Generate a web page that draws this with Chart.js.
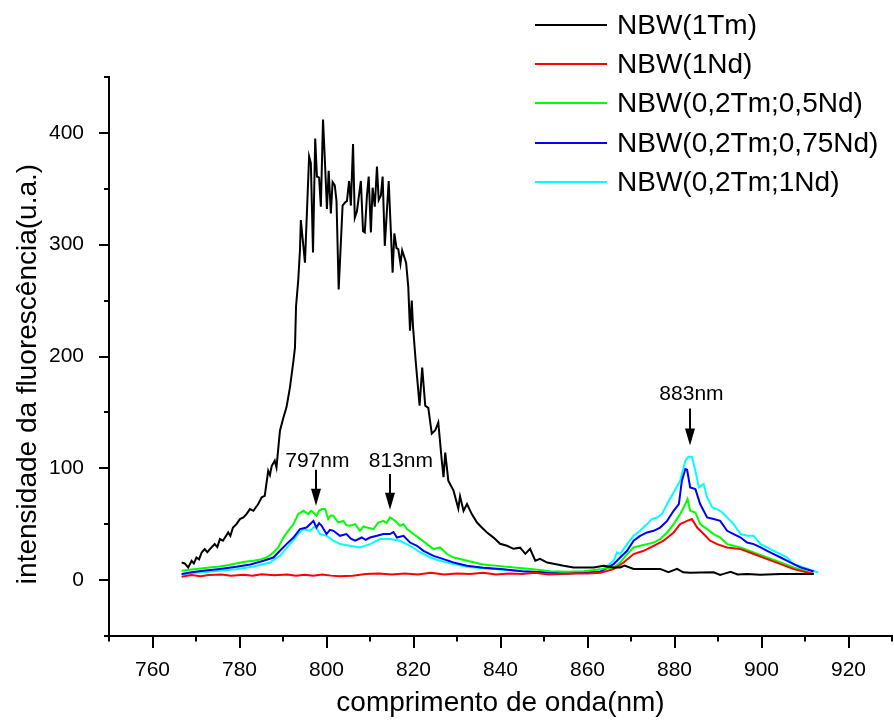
<!DOCTYPE html>
<html>
<head>
<meta charset="utf-8">
<script src="https://cdn.jsdelivr.net/npm/chart.js@4.4.1/dist/chart.umd.min.js"></script>
<style>
html,body{margin:0;padding:0;background:#fff;}
#wrap{position:relative;width:894px;height:722px;overflow:hidden;}
#c{position:absolute;left:0;top:0;}
.lg{position:absolute;left:535px;height:30px;display:flex;align-items:center;font-family:'Liberation Sans',Arial,sans-serif;font-size:28px;color:#000;white-space:nowrap;}
.lg .ln{display:inline-block;width:72px;height:2px;margin-right:10px;}
</style>
</head>
<body>
<div id="wrap"><canvas id="c" width="894" height="722"></canvas><div id="legend"></div></div>
<script>
// ---------- DATA ----------
const seriesLabels = ['NBW(1Tm)', 'NBW(1Nd)', 'NBW(0,2Tm;0,5Nd)', 'NBW(0,2Tm;0,75Nd)', 'NBW(0,2Tm;1Nd)'];

const tmWl = [766.7,767.4,768.2,769.0,769.5,770.1,770.7,771.3,772.0,772.6,773.2,774.3,774.9,775.5,776.2,777.4,777.9,778.5,779.3,780.1,780.9,781.6,782.4,783.2,784.3,785.1,785.8,786.6,787.0,787.4,788.1,788.5,789.3,790.1,790.8,791.6,792.4,792.75,793.0,793.5,793.9,794.1,795.05,796.0,796.4,796.9,797.4,797.8,798.3,798.7,799.2,799.7,800.1,800.5,801.0,801.4,801.9,802.3,802.8,803.7,804.3,804.7,805.2,805.6,806.1,806.5,807.0,807.9,808.4,808.8,809.3,809.7,810.2,810.6,811.1,811.6,812.0,812.5,812.9,813.4,814.3,815.2,815.6,816.1,816.5,817.0,817.4,818.3,818.8,819.2,819.6,819.9,820.5,821.4,822.0,822.7,823.4,824.2,825.0,825.7,826.5,826.9,827.3,828.0,829.2,830.3,830.7,831.5,832.3,833.4,834.6,835.7,836.9,838.4,839.9,841.5,843.0,844.5,845.7,846.8,848.0,849.1,850.7,852.2,854.5,856.8,859.1,861.4,863.7,866.0,867.5,868.5,870.6,876.7,878.6,880.6,882.0,883.6,885.9,889.0,890.5,891.3,892.9,894.5,896.7,899.7,904.4,912.0];
const tmInt = [15.7,14.9,11.3,17.3,15.0,20.2,18.5,24.7,27.7,25.0,27.7,32.2,29.5,36.7,35.2,42.6,39.5,47.0,50.1,54.6,56.0,59.0,63.5,62.0,68.0,74.0,75.4,97.8,94.0,102.0,106.8,100.8,133.6,145.5,154.5,172.4,196.0,208.0,245,268,295,322,284,379,373,293,395,361,360,334,412,369,332,366,328,356,353,339,260,335,338,339,357,335,390,324,330,357,312,311,344,361,311,351,334,370,340,344,361,299,357,275,310,297,296,283,295,284,262,223,250,226,196,156,190,156,154,131,134,141,107,92,114,89,80,64,75,62,68,59,51.5,47,42.6,38,32.5,30.7,28,29,23.5,28,17.3,19,15.7,14.6,12.8,11.3,11.3,11.3,12.8,11.3,11.3,13,10,10,7,10,7,6.5,6.8,7,4.7,5.6,7.4,5,5.4,4.7,5.4,5.4];

const ndWl = [766.7,769,771,773,776,778,781,783,785,788,791,793,795,797,799,801,803,806,809,812,815,818,821,824,827,830,833,836,839,842,845,848,851,854,857,860,863,866.0,868.3,870.6,872.9,875.2,877.5,879.8,881.3,882.9,884.0,885.2,886.7,888.2,889.8,892.1,895.2,898.2,901.3,904.4,907.4,912.0];
const ndInt = [3,4.5,3.5,4.5,5,3.8,4.8,4,5.2,4.3,5,4,4.8,4,5,4,3.5,4,5.5,6,5,6,5,6.5,5,6,5.5,6.5,5,6,5.5,6.5,5,5.5,6,6,6.5,9.8,15.7,23.3,26.2,30.7,35.2,42.6,50.1,53,54.6,47,41.2,35.2,32.2,29.2,27.7,23.3,18.8,14.3,9.8,5.4];

const mix05Wl = [766.7,769,771.6,773.5,775.5,777.5,779.3,781.2,783.2,784.8,786.2,787.8,788.9,790.1,791.2,792.4,793.5,794.7,795.8,796.4,797.0,797.7,798.3,798.9,799.7,800.4,801.0,801.6,802.7,803.9,804.6,805.4,806.6,807.7,808.5,809.3,810.8,811.9,813.1,813.8,814.6,815.8,816.9,817.7,818.5,820.0,821.6,823.1,824.6,826.1,827.7,829.2,830.7,832.3,836.0,839.9,843.8,847.5,851.4,855.3,859.1,862.9,866.0,867.5,869.1,870.6,872.1,873.7,875.2,876.7,878.3,879.8,881.3,882.5,883.0,883.6,884.8,885.9,887.5,889.0,890.5,892.1,893.6,895.2,898.2,901.3,904.4,907.4,912.0];
const mix05Int = [8.3,9.5,10.7,11.5,12.2,13.5,14.9,16.5,17.3,18.5,20.2,24.7,29.2,38.1,44.1,50.1,59,62,59,62,60.5,57.5,62,63.5,63.5,54.6,58,57.5,51.5,53,49,48.6,50.1,44.1,48,47,45.6,51.5,53,51,56,53,48.6,50,45.6,41.2,36.7,32.2,27.7,29.2,23.3,20.2,18.8,17.3,14,12.5,11,9.6,8,7.5,8,9.6,11.3,15.7,23.3,29.2,30.7,32.2,33.6,36.7,42.6,50.1,59,68,72.5,62,60.5,50.1,45.6,41.2,38.1,32.2,30.7,29.2,24.7,20.2,15.7,11.3,5.4];

const mix075Wl = [766.7,769,771.6,775.5,779.3,782.5,785.5,787.8,789.3,790.8,792.4,793.9,795.4,796.2,797.0,797.7,798.3,798.9,800.0,800.8,801.6,803.1,804.6,805.6,806.6,808.1,809.0,810.0,811.6,813.1,814.6,815.4,816.2,817.7,819.2,820.8,822.3,824.6,826.9,829.2,832.3,836,840,845,850,855,859,863,866.0,867.5,869.1,870.6,872.1,873.7,875.2,876.7,878.3,879.8,881.0,881.7,882.5,882.9,883.6,884.8,885.9,887.5,889.0,890.5,892.1,893.6,895.2,896.7,898.2,899.8,901.3,902.8,904.4,906.7,909.0,912.0];
const mix075Int = [5.4,7,8.3,10,11.9,14,17.3,20.2,26.2,32.2,38.1,45.6,47,50,53,47,51,48.6,41.2,45,44.1,39.6,41.2,37,35.2,38.1,36,38.1,39.6,41.2,41.2,43,38.1,39.6,33.6,30.7,26.2,21.7,18.8,15.7,12.8,11,10,8,7,6,6.5,7.5,14.3,20.2,26.2,35.2,39.6,42.6,44.1,47,53,62,68,88.9,99.3,98.7,82.9,81.4,68,56,54.6,53,44.1,41.2,38.1,33.6,32.2,29.2,26.2,23.3,20.2,15.7,11.3,7.7];

const mix1Wl = [766.7,770,773,776,779.3,783,787.0,789.3,791.6,793.5,794.7,796.2,797.4,798.5,800.0,801.6,803.1,805.4,807.7,810.0,812.3,814.6,816.9,819.2,821.6,823.9,826.1,829.2,832.3,836,840,845,850,855,859,863,866.0,866.8,867.5,869.1,870.6,872.1,873.7,874.8,876.0,877.1,878.3,879.8,881.3,882.5,883.2,884.0,884.8,885.6,886.7,887.5,888.7,889.8,891.0,892.1,893.6,895.2,896.7,898.2,899.8,901.3,902.8,904.4,905.9,907.4,909.7,912.0,913.0];
const mix1Int = [5,6.5,7.5,8.5,9.8,12,15.7,21.7,32.2,41.2,45.6,44.1,48.6,41.2,39.6,35.2,32.2,30.7,29.2,32.2,36.7,36.7,35.2,30.7,24.7,20.2,17.3,14.3,11.9,10.5,9.5,8,6.5,6,6.5,8,17.3,24.7,23.3,32.2,39.6,44.1,50.1,54.6,56,59,68,78.4,88.9,106.8,110.3,110.3,97.8,82.9,85.9,73.9,65,63.5,60.5,56,50.1,41.2,39.6,39.6,32.2,29.2,26.2,23.3,20.2,14.3,11.3,8.3,6.8];

const seriesColors = ['#000000', '#ff0000', '#00ff00', '#0000ff', '#00ffff'];

const xLabelledTicks = [760, 780, 800, 820, 840, 860, 880, 900, 920];
const yLabelledTicks = [0, 100, 200, 300, 400];

const xTitle = 'comprimento de onda(nm)';
const yTitle = 'intensidade da fluorescência(u.a.)';

const annotLabels = ['797nm', '813nm', '883nm'];
const annotTextX = [797.9, 817.1, 883.9];
const annotTextY = [106, 106, 166];
const arrowX = [797.7, 814.5, 883.5];
const arrowFrom = [98.7, 95, 153.4];
const arrowTo = [66.5, 63, 120.3];

// ---------- BUILD ----------
const FONT = "'Liberation Sans', Arial, sans-serif";
function pts(wl, v) { return wl.map((w, i) => ({x: w, y: v[i]})); }
const seriesWl = [tmWl, ndWl, mix05Wl, mix075Wl, mix1Wl];
const seriesInt = [tmInt, ndInt, mix05Int, mix075Int, mix1Int];

const datasets = seriesLabels.map((lab, i) => ({
  label: lab,
  data: pts(seriesWl[i], seriesInt[i]),
  borderColor: seriesColors[i],
  backgroundColor: seriesColors[i],
  borderWidth: 2,
  pointRadius: 0,
  tension: 0,
  fill: false
}));

const decor = {
  id: 'decor',
  afterDraw(chart) {
    const {ctx, scales: {x, y}} = chart;
    ctx.save();
    ctx.strokeStyle = '#000';
    ctx.lineWidth = 2;
    x.ticks.forEach(t => {
      const px = Math.round(x.getPixelForValue(t.value));
      const len = xLabelledTicks.includes(t.value) ? 12 : 5.5;
      ctx.beginPath();
      ctx.moveTo(px, x.top);
      ctx.lineTo(px, x.top + len);
      ctx.stroke();
    });
    y.ticks.forEach(t => {
      const py = Math.round(y.getPixelForValue(t.value));
      const len = yLabelledTicks.includes(t.value) ? 10 : 5;
      ctx.beginPath();
      ctx.moveTo(y.right, py);
      ctx.lineTo(y.right - len, py);
      ctx.stroke();
    });
    ctx.fillStyle = '#000';
    ctx.font = '28px ' + FONT;
    ctx.textAlign = 'center';
    ctx.textBaseline = 'middle';
    ctx.save();
    ctx.translate(28, 374);
    ctx.rotate(-Math.PI / 2);
    ctx.fillText(yTitle, 0, 0);
    ctx.restore();
    ctx.font = '21px ' + FONT;
    annotLabels.forEach((lab, i) => {
      ctx.fillText(lab, x.getPixelForValue(annotTextX[i]), y.getPixelForValue(annotTextY[i]));
      const ax = Math.round(x.getPixelForValue(arrowX[i]));
      const y0 = y.getPixelForValue(arrowFrom[i]);
      const y1 = y.getPixelForValue(arrowTo[i]);
      const head = 17;
      ctx.beginPath();
      ctx.moveTo(ax, y0);
      ctx.lineTo(ax, y1 - head + 2);
      ctx.stroke();
      ctx.beginPath();
      ctx.moveTo(ax - 5, y1 - head);
      ctx.lineTo(ax + 5, y1 - head);
      ctx.lineTo(ax, y1);
      ctx.closePath();
      ctx.fill();
    });
    ctx.restore();
  }
};

const chart = new Chart(document.getElementById('c'), {
  type: 'line',
  data: {datasets},
  options: {
    responsive: false,
    animation: false,
    devicePixelRatio: 1,
    layout: {padding: {top: 77, right: 2, bottom: 0, left: 0}},
    plugins: {legend: {display: false}, tooltip: {enabled: false}},
    scales: {
      x: {
        type: 'linear',
        min: 750, max: 930,
        grid: {display: false},
        border: {display: true, color: '#000', width: 2},
        ticks: {
          stepSize: 10, autoSkip: false, maxRotation: 0, padding: 0,
          color: '#000', font: {family: FONT, size: 21, lineHeight: 2.5},
          callback: v => xLabelledTicks.includes(v) ? String(v) : ''
        },
        title: {display: true, text: xTitle, color: '#000', font: {family: FONT, size: 28}, padding: {top: 0, bottom: 2}},
        afterFit: s => { s.height = 86; }
      },
      y: {
        type: 'linear',
        min: -50, max: 450,
        grid: {display: false},
        border: {display: true, color: '#000', width: 2},
        ticks: {
          stepSize: 50, autoSkip: false, padding: 17,
          color: '#000', font: {family: FONT, size: 21},
          callback: v => yLabelledTicks.includes(v) ? String(v) : ''
        },
        title: {display: false, text: yTitle},
        afterFit: s => { s.width = 109; }
      }
    }
  },
  plugins: [decor]
});

const lg = document.getElementById('legend');
chart.data.datasets.forEach((ds, i) => {
  const row = document.createElement('div');
  row.className = 'lg';
  row.style.top = (10 + i * 39.2) + 'px';
  const ln = document.createElement('span');
  ln.className = 'ln';
  ln.style.background = ds.borderColor;
  const tx = document.createElement('span');
  tx.textContent = ds.label;
  row.appendChild(ln);
  row.appendChild(tx);
  lg.appendChild(row);
});
</script>
</body>
</html>
